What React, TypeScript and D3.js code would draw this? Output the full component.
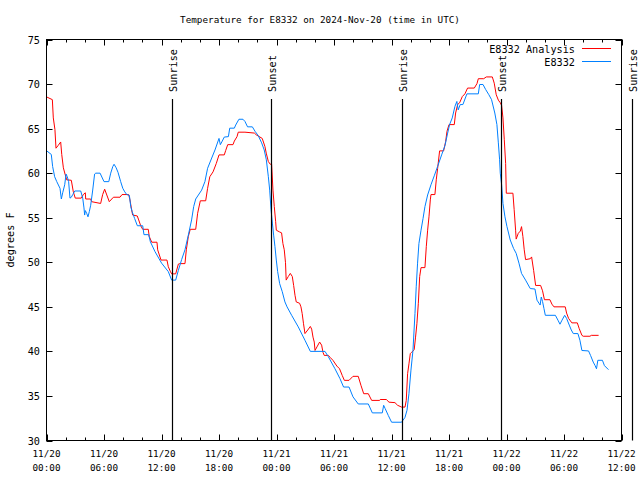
import React from "react";
import * as d3 from "d3";

// hours since 2024-11-20 00:00 UTC
const analysisHours = [0.02,0.61,0.71,0.88,0.99,1.21,1.48,1.59,1.76,1.96,2.11,2.59,2.80,3.00,3.63,3.84,4.05,4.09,4.61,4.71,5.65,5.86,6.07,6.55,6.98,7.67,7.88,8.57,8.71,8.85,8.99,9.47,9.62,9.83,10.04,10.62,10.72,10.98,11.53,11.60,11.95,12.57,12.71,12.91,13.06,13.48,13.76,13.90,14.45,14.59,14.80,15.00,15.57,15.77,16.05,16.61,16.81,17.04,17.38,17.72,18.00,18.55,18.70,18.91,19.46,19.60,19.88,20.01,20.71,21.69,21.89,22.51,22.79,22.93,23.15,23.35,23.49,23.63,23.77,23.91,23.98,24.33,24.53,24.67,24.81,24.94,25.01,25.23,25.44,25.65,25.79,25.93,26.06,26.41,26.55,26.68,26.82,26.97,27.26,27.53,27.67,27.81,27.94,28.02,28.22,28.50,28.71,28.85,28.98,29.41,29.62,29.89,30.30,30.58,30.86,31.08,31.57,31.98,32.53,32.81,33.10,33.58,33.93,34.76,34.82,35.46,35.74,36.36,36.64,37.05,37.41,37.54,37.68,37.82,37.96,38.10,38.37,38.51,38.65,38.80,38.94,39.08,39.49,39.63,39.77,39.91,40.05,40.12,40.53,40.67,40.81,41.02,41.44,41.65,41.79,42.00,42.55,42.69,42.90,43.11,43.39,43.66,43.94,44.64,44.92,45.06,45.62,45.89,46.52,46.72,46.93,47.15,47.35,47.49,47.63,47.77,47.91,47.98,48.67,48.80,48.95,49.01,49.23,49.44,49.57,49.71,49.85,49.99,50.48,50.62,50.83,51.04,51.56,51.76,51.96,52.53,52.74,52.95,54.13,54.27,54.48,54.82,55.39,55.59,55.87,56.01,56.71,56.85,57.61];
const analysisTemps = [68.55,68.25,66.2,64.9,62.8,63.1,63.5,62.1,60.6,59.8,59.25,59.2,57.9,57.2,57.2,57.6,57.8,57.1,57.1,56.8,56.6,57.6,58.2,56.8,57.3,57.3,57.6,57.6,57.0,56.1,55.3,55.2,54.75,54.1,53.7,53.7,52.9,52.25,52.25,51.4,50.25,50.25,49.5,49.0,48.7,48.7,49.8,49.85,49.85,51.4,52.9,53.7,53.7,55.5,56.9,56.9,58.3,59.6,60.15,61.1,62.05,62.05,62.55,63.2,63.2,63.6,64.1,64.6,64.6,64.5,64.3,63.9,63.0,62.25,61.3,61.0,61.0,58.1,56.25,54.6,53.6,53.4,53.3,52.1,51.4,49.95,48.0,48.4,48.75,48.4,47.4,46.3,45.55,45.4,45.0,44.25,43.1,42.0,42.4,42.8,42.5,41.6,41.05,40.1,40.5,41.05,40.7,39.9,39.55,39.55,39.3,39.0,38.35,38.05,37.3,36.75,36.75,37.2,37.2,36.2,35.25,35.25,34.5,34.5,34.6,34.6,34.3,34.25,33.95,33.75,33.75,34.5,37.5,38.6,39.75,39.9,40.2,41.6,43.1,45.4,48.4,49.4,49.4,51.75,53.6,55.1,57.0,57.6,57.6,59.25,60.5,62.5,62.5,63.55,64.7,65.45,65.45,66.75,67.7,67.9,68.6,68.9,69.55,69.55,70.05,70.6,70.6,70.8,70.8,70.1,68.8,68.2,67.9,67.6,66.2,63.75,61.1,57.75,57.75,55.9,53.6,52.6,53.25,53.5,54.0,52.9,51.4,50.3,50.4,50.6,49.1,47.4,47.4,46.8,45.8,45.8,45.3,45.0,45.0,44.3,43.7,43.2,43.2,42.55,41.8,41.7,41.7,41.8,41.8];

const observedHours = [0.02,0.50,0.64,0.85,1.07,1.41,1.55,1.69,1.90,2.04,2.17,2.31,2.45,2.59,2.74,2.95,3.57,3.78,3.91,3.98,4.05,4.19,4.33,4.47,4.61,4.81,5.02,5.14,5.59,6.00,6.50,6.70,6.92,7.05,7.27,7.46,7.74,7.96,8.17,8.37,8.65,8.79,8.93,9.20,9.48,10.04,10.17,10.66,10.84,11.32,12.01,12.71,13.06,13.48,13.76,14.10,14.45,14.80,15.14,15.36,15.57,16.19,16.53,16.81,17.24,17.58,18.00,18.14,18.34,18.55,18.98,19.12,19.60,19.74,20.08,20.50,20.71,20.98,21.48,21.76,22.10,22.45,22.72,22.94,23.15,23.29,23.43,23.57,23.70,23.84,23.98,24.12,24.33,24.60,24.88,25.10,25.58,26.27,26.97,27.53,29.06,29.41,30.10,30.62,31.00,31.57,31.98,32.53,33.58,34.00,35.04,35.18,35.33,35.67,36.01,37.05,37.41,37.62,37.82,38.03,38.24,38.45,38.58,38.72,38.86,39.08,39.29,39.49,39.77,40.12,40.46,40.81,41.23,41.58,41.86,42.06,42.34,42.62,42.82,42.96,43.17,43.45,43.87,45.06,45.20,45.55,45.82,46.16,46.44,46.78,47.00,47.15,47.28,47.35,47.49,47.63,47.84,48.05,48.39,48.74,49.01,49.30,49.57,49.99,50.48,50.97,51.18,51.39,51.51,51.63,51.76,51.91,52.05,53.10,53.37,53.58,53.79,54.07,54.27,54.55,54.76,54.97,55.45,55.66,55.87,56.56,56.77,57.05,57.25,57.39,57.53,58.01,58.22,58.64];
const observedTemps = [62.5,62.1,60.75,59.6,59.05,58.3,57.1,57.8,58.7,59.9,59.6,59.05,57.2,57.3,57.6,58.0,58.0,57.2,56.1,55.3,55.8,55.5,55.1,55.7,56.4,58.0,59.9,60.0,60.0,59.05,59.05,60.0,60.75,61.0,60.6,60.1,59.05,58.3,57.9,57.6,57.5,56.25,55.7,54.9,54.1,54.1,53.1,53.1,52.3,51.2,49.9,48.95,48.0,48.0,49.1,50.3,51.4,53.05,54.75,56.25,57.1,58.1,59.05,60.55,61.7,62.6,63.9,63.2,63.6,64.05,64.1,65.05,65.05,65.4,66.05,66.05,65.8,65.2,65.2,64.7,64.2,63.4,62.6,61.5,59.6,58.1,55.9,54.4,53.05,51.75,50.25,48.95,47.6,46.7,45.55,45.0,44.05,42.75,41.25,40.0,40.0,39.4,38.05,36.95,36.0,36.0,34.9,34.1,34.1,33.1,33.1,33.95,33.6,32.8,32.05,32.05,32.6,33.4,35.25,37.9,40.1,44.25,47.25,49.9,52.1,53.6,54.9,56.25,57.55,58.7,59.7,60.75,62.05,63.1,64.5,65.45,66.2,67.5,68.05,67.1,67.7,67.7,68.9,68.9,69.95,69.95,69.4,68.8,68.25,66.75,65.45,63.4,61.5,60.0,58.7,56.6,55.1,54.0,52.5,51.55,51.0,49.9,48.75,48.0,47.05,47.0,45.75,45.4,45.2,46.1,45.6,44.8,44.05,44.05,43.5,43.05,43.5,44.05,43.7,42.95,42.4,42.0,42.0,41.25,40.1,40.05,39.55,38.8,38.4,38.05,39.0,39.0,38.4,37.95];

const eventHours = [13.13, 23.46, 37.13, 47.46, 61.1];
const eventLabels = ["Sunrise", "Sunset", "Sunrise", "Sunset", "Sunrise"];

const xTickHours = [0, 6, 12, 18, 24, 30, 36, 42, 48, 54, 60];
const xMinorTickHours = [2, 4, 8, 10, 14, 16, 20, 22, 26, 28, 32, 34, 38, 40, 44, 46, 50, 52, 56, 58];
const yTicks = [30, 35, 40, 45, 50, 55, 60, 65, 70, 75];

const seriesNames = ["E8332 Analysis", "E8332"];
const seriesColors = ["#ff0000", "#0080ff"];

const title = "Temperature for E8332 on 2024-Nov-20 (time in UTC)";
const yLabel = "degrees F";

const BASE = Date.UTC(2024, 10, 20, 0, 0, 0);
const toDate = (h: number) => new Date(BASE + h * 3600e3);

const FONT = "'DejaVu Sans Mono', monospace";
const FS = 9.3;
const FS2 = 10.2;

export default function App() {
  const L = 46.5, R = 621.5, T = 39.5, B = 440.5;
  const x = d3.scaleUtc().domain([toDate(0), toDate(60)]).range([L, R]);
  const y = d3.scaleLinear().domain([30, 75]).range([B, T]);

  const line = d3
    .line<[number, number]>()
    .x((d) => x(toDate(d[0])))
    .y((d) => y(d[1]))
    .curve(d3.curveLinear);

  const analysis = analysisHours.map((h, i) => [h, analysisTemps[i]] as [number, number]);
  const observed = observedHours.map((h, i) => [h, observedTemps[i]] as [number, number]);

  const fmtDay = d3.utcFormat("%m/%d");
  const fmtTime = d3.utcFormat("%H:%M");

  return (
    <svg width={640} height={480} style={{ display: "block", position: "absolute", left: 0, top: 0 }} fontFamily={FONT}>
      <rect x={0} y={0} width={640} height={480} fill="#fff" />
      <text x={320} y={23} textAnchor="middle" fontSize={FS}>{title}</text>
      <text transform={`translate(14,240) rotate(-90)`} textAnchor="middle" fontSize={FS2}>{yLabel}</text>

      {/* y ticks */}
      {yTicks.map((v) => (
        <g key={v}>
          <line x1={L} x2={L + 6} y1={Math.round(y(v)) + 0.5} y2={Math.round(y(v)) + 0.5} stroke="#000" />
          <line x1={R} x2={R - 6} y1={Math.round(y(v)) + 0.5} y2={Math.round(y(v)) + 0.5} stroke="#000" />
          <text x={40} y={y(v) + 4} textAnchor="end" fontSize={FS2}>{v}</text>
        </g>
      ))}

      {/* x ticks */}
      {xTickHours.map((h) => {
        const d = toDate(h);
        const px = Math.round(x(d)) + 0.5;
        return (
          <g key={h}>
            <line x1={px} x2={px} y1={B} y2={B - 6} stroke="#000" />
            <line x1={px} x2={px} y1={T} y2={T + 6} stroke="#000" />
            <text x={x(d)} y={457} textAnchor="middle" fontSize={FS}>{fmtDay(d)}</text>
            <text x={x(d)} y={471} textAnchor="middle" fontSize={FS}>{fmtTime(d)}</text>
          </g>
        );
      })}
      {xMinorTickHours.map((h) => {
        const px = Math.round(x(toDate(h))) + 0.5;
        return (
          <g key={"m" + h}>
            <line x1={px} x2={px} y1={B} y2={B - 3} stroke="#000" />
            <line x1={px} x2={px} y1={T} y2={T + 3} stroke="#000" />
          </g>
        );
      })}

      {/* data */}
      <path d={line(analysis) || ""} fill="none" stroke={seriesColors[0]} strokeWidth={1} />
      <path d={line(observed) || ""} fill="none" stroke={seriesColors[1]} strokeWidth={1} />

      {/* events */}
      {eventHours.map((h, i) => {
        const px = Math.round(x(toDate(h))) + 0.5;
        return (
          <g key={i}>
            <line x1={px} x2={px} y1={99} y2={B} stroke="#000" strokeWidth={1.2} />
            <text transform={`translate(${px + 4},92) rotate(-90)`} textAnchor="start" fontSize={FS2}>{eventLabels[i]}</text>
          </g>
        );
      })}

      {/* border */}
      <rect x={L} y={T} width={R - L} height={B - T} fill="none" stroke="#000" />

      {/* legend */}
      {seriesNames.map((n, i) => (
        <g key={n}>
          <text x={575} y={52.5 + i * 13} textAnchor="end" fontSize={FS2}>{n}</text>
          <line x1={582} x2={611} y1={48.5 + i * 13} y2={48.5 + i * 13} stroke={seriesColors[i]} />
        </g>
      ))}
    </svg>
  );
}
